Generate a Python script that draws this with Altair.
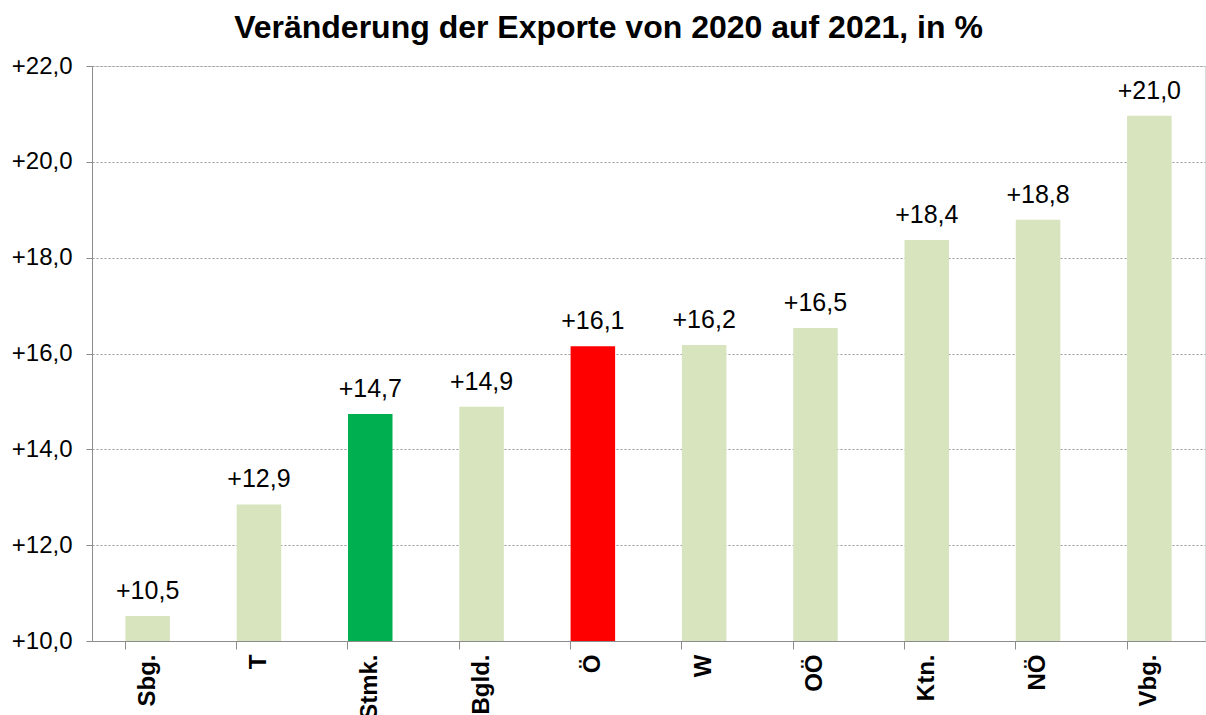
import altair as alt
import pandas as pd

regions = ["Sbg.", "T", "Stmk.", "Bgld.", "Ö", "W", "OÖ", "Ktn.", "NÖ", "Vbg."]
values = [10.52, 12.85, 14.74, 14.89, 16.15, 16.18, 16.53, 18.37, 18.79, 20.96]
labels = ["+10,5", "+12,9", "+14,7", "+14,9", "+16,1", "+16,2", "+16,5", "+18,4", "+18,8", "+21,0"]
colors = ["#D7E4BD", "#D7E4BD", "#00B050", "#D7E4BD", "#FF0000",
          "#D7E4BD", "#D7E4BD", "#D7E4BD", "#D7E4BD", "#D7E4BD"]

df = pd.DataFrame({"region": regions, "value": values, "label": labels, "color": colors})

FONT = "Liberation Sans"

x = alt.X("region:N", sort=regions, title=None,
          scale=alt.Scale(paddingInner=0.6, paddingOuter=0.3),
          axis=alt.Axis(labelAngle=-90, labelAlign="right", labelBaseline="middle",
                        labelFontWeight="bold", labelFontSize=24, labelColor="black",
                        labelFont=FONT, bandPosition=0, tickSize=8, labelPadding=5,
                        domainColor="#8c8c8c", tickColor="#8c8c8c", grid=False))
y = alt.Y("value:Q", title=None,
          scale=alt.Scale(domain=[10, 22], nice=False, zero=False),
          axis=alt.Axis(values=[10, 12, 14, 16, 18, 20, 22], format="+.1f",
                        labelExpr="replace(format(datum.value, '+.1f'), '.', ',')",
                        labelFontSize=24, labelColor="black", labelFont=FONT,
                        tickSize=6, labelPadding=14, domainColor="#8c8c8c",
                        tickColor="#8c8c8c", gridColor="#9a9a9a", gridDash=[2, 2],
                        gridWidth=1))

bars = alt.Chart(df).mark_bar(clip=True).encode(
    x=x, y=y, y2=alt.datum(10), color=alt.Color("color:N", scale=None)
)

text = alt.Chart(df).mark_text(baseline="alphabetic", dy=-17, fontSize=25, font=FONT,
                               color="black").encode(
    x=alt.X("region:N", sort=regions), y="value:Q", text="label:N"
)

chart = alt.layer(bars, text).properties(
    width=1113, height=575,
    autosize=alt.AutoSizeParams(type="none"),
    padding={"left": 92, "top": 66, "right": 1, "bottom": 74},
    title=alt.TitleParams("Veränderung der Exporte von 2020 auf 2021, in %",
                          fontSize=32, font=FONT, fontWeight="bold", color="black",
                          anchor="middle", offset=18, dx=-40, dy=9),
).configure_view(stroke=None).configure(background="white")

chart.save("out.html", embed_options={"renderer": "svg", "actions": False})
